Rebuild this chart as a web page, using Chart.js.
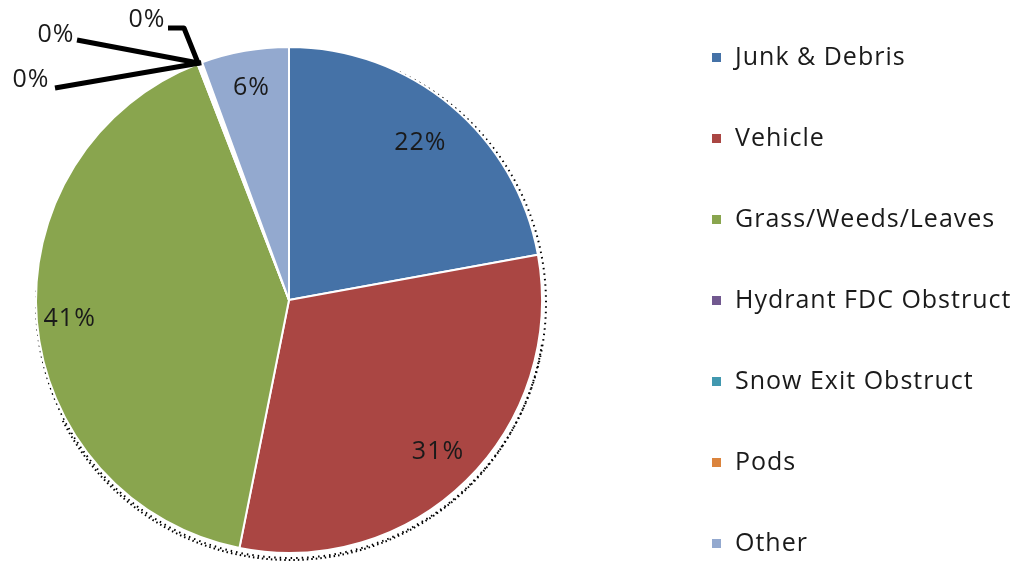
<!DOCTYPE html>
<html>
<head>
<meta charset="utf-8">
<script src="https://cdn.jsdelivr.net/npm/chart.js@4.4.1/dist/chart.umd.min.js"></script>
<style>
  html, body { margin: 0; padding: 0; background: #fff; }
  #wrap { width: 1018px; height: 565px; }
</style>
</head>
<body>
<div id="wrap"><canvas id="pieChart" width="1018" height="565"></canvas></div>
<script>
const categories = ['Junk & Debris', 'Vehicle', 'Grass/Weeds/Leaves', 'Hydrant FDC Obstruct', 'Snow Exit Obstruct', 'Pods', 'Other'];
const shares = [22.2, 31.1, 41.1, 0.1, 0.1, 0.1, 5.6];
const colors = ['#4572A7', '#AA4643', '#89A54E', '#71588F', '#4198AF', '#DB843D', '#93A9CF'];

const FONT = '"Open Sans", "DejaVu Sans", sans-serif';

// dotted "shadow" round the right and bottom edge
const dottedRim = {
    id: 'dottedRim',
    beforeDatasetsDraw(chart) {
        const arc = chart.getDatasetMeta(0).data[0];
        const { x, y, outerRadius } = arc;
        const ctx = chart.ctx;
        ctx.save();
        ctx.strokeStyle = '#000';
        ctx.lineWidth = 2;
        ctx.setLineDash([1.5, 4]);
        ctx.beginPath();
        ctx.arc(x + 2, y + 3, outerRadius + 2, -Math.PI * 0.36, Math.PI * 1.02);
        ctx.stroke();
        ctx.setLineDash([1.5, 3]);
        ctx.beginPath();
        ctx.arc(x + 1, y + 5, outerRadius + 2, Math.PI * 0.05, Math.PI * 0.85);
        ctx.stroke();
        ctx.restore();
    }
};

const sliceLabels = {
    id: 'sliceLabels',
    afterDatasetsDraw(chart) {
        const meta = chart.getDatasetMeta(0);
        const total = shares.reduce((a, b) => a + b, 0);
        const radial = [0.81, 0.84, 0.87, 0, 0, 0, 0.85];
        const ctx = chart.ctx;
        ctx.save();
        ctx.font = '25px ' + FONT;
        ctx.letterSpacing = '1px';
        ctx.fillStyle = '#1a1a1a';
        ctx.textAlign = 'center';
        ctx.textBaseline = 'middle';
        const zeros = [];
        meta.data.forEach((arc, i) => {
            const pct = Math.round(shares[i] / total * 100) + '%';
            if (shares[i] / total < 0.01) { zeros.push({ arc, pct }); return; }
            const mid = (arc.startAngle + arc.endAngle) / 2;
            const r = arc.outerRadius * radial[i];
            ctx.fillText(pct, arc.x + Math.cos(mid) * r, arc.y + Math.sin(mid) * r);
        });
        // leader lines for the tiny slices
        const tips = [[168, 28, 184, 28], [77, 40, null, null], [55, 88, null, null]];
        const textPos = [[147, 20], [56, 35], [31, 80]];
        ctx.strokeStyle = '#000';
        ctx.lineWidth = 5;
        ctx.lineJoin = 'round';
        zeros.forEach((z, k) => {
            const a = z.arc;
            const mid = (a.startAngle + a.endAngle) / 2;
            const ax = a.x + Math.cos(mid) * a.outerRadius;
            const ay = a.y + Math.sin(mid) * a.outerRadius;
            const t = tips[k];
            ctx.beginPath();
            ctx.moveTo(ax, ay);
            if (t[2] !== null) { ctx.lineTo(t[2], t[3]); }
            ctx.lineTo(t[0], t[1]);
            ctx.stroke();
            ctx.fillText(z.pct, textPos[k][0], textPos[k][1]);
        });
        ctx.restore();
    }
};

const sideLegend = {
    id: 'sideLegend',
    afterDraw(chart) {
        const ctx = chart.ctx;
        ctx.save();
        ctx.font = '25px ' + FONT;
        ctx.letterSpacing = '1px';
        ctx.textBaseline = 'middle';
        ctx.textAlign = 'left';
        categories.forEach((name, i) => {
            const y = 58 + i * 81;
            ctx.fillStyle = colors[i];
            ctx.fillRect(712, y - 5, 9, 9);
            ctx.fillStyle = '#1a1a1a';
            ctx.fillText(name, 735, y);
        });
        ctx.restore();
    }
};

new Chart(document.getElementById('pieChart'), {
    type: 'pie',
    data: {
        labels: categories,
        datasets: [{
            data: shares,
            backgroundColor: colors,
            borderColor: '#ffffff',
            borderWidth: 2
        }]
    },
    options: {
        responsive: false,
        animation: false,
        layout: { padding: { left: 35, right: 475, top: 46, bottom: 11 } },
        plugins: {
            legend: { display: false },
            tooltip: { enabled: false }
        }
    },
    plugins: [dottedRim, sliceLabels, sideLegend]
});
</script>
</body>
</html>
